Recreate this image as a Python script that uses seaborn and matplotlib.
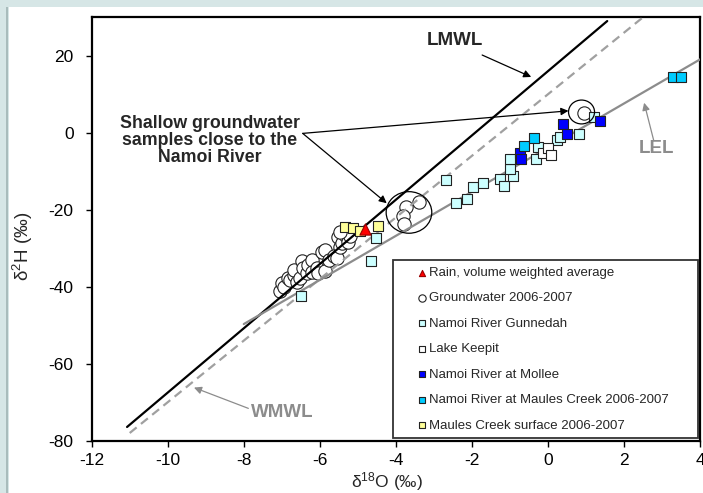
import matplotlib
matplotlib.use("Agg")
import matplotlib.pyplot as plt
from matplotlib.patches import Ellipse, Rectangle
import numpy as np
import pandas as pd
import seaborn as sns

# ---- data (delta18O, delta2H in permil) ----
rain_x = [-4.81]
rain_y = [-25.0]

gw_x = [-7.06, -7.00, -6.95, -6.83, -6.78, -6.69, -6.69, -6.60, -6.52, -6.47,
        -6.43, -6.34, -6.30, -6.21, -6.21, -6.08, -6.04, -5.95, -5.86, -5.86,
        -5.77, -5.62, -5.55, -5.51, -5.47, -5.42, -5.33, -5.25, -5.20, -5.47,
        -3.40, -3.73, -3.80, -3.78, 0.94]
gw_y = [-41.2, -39.1, -40.0, -37.8, -38.3, -37.0, -35.7, -38.8, -37.8, -33.3,
        -35.2, -36.5, -34.4, -33.1, -36.1, -35.2, -36.4, -30.9, -30.5, -36.0,
        -33.1, -32.0, -32.5, -27.0, -29.6, -28.7, -26.6, -28.3, -26.8, -25.7,
        -18.0, -19.4, -21.6, -23.7, 5.2]

gunnedah_x = [-6.50, -4.65, -4.53, -2.68, -2.41, -2.13, -1.96, -1.70, -1.26, -1.15,
              -0.92, -0.99, -0.99, -0.31, -0.25, 0.24, 0.32, 0.81, 1.20]
gunnedah_y = [-42.3, -33.4, -27.4, -12.3, -18.3, -17.3, -14.0, -13.0, -11.9, -13.8,
              -11.2, -9.3, -6.7, -6.9, -3.8, -1.9, -1.0, -0.3, 4.0]

keepit_x = [-0.12, 0.00, 0.07]
keepit_y = [-5.2, -4.0, -5.8]

mollee_x = [-0.73, -0.71, 0.39, 0.49, 1.36]
mollee_y = [-5.3, -6.9, 2.4, -0.3, 3.1]

maules_river_x = [-0.62, -0.36, 3.29, 3.50]
maules_river_y = [-3.4, -1.4, 14.4, 14.4]

maules_surface_x = [-5.33, -5.12, -4.94, -4.46]
maules_surface_y = [-24.5, -24.8, -25.5, -24.2]

# water lines: dH = slope * dO + intercept
line_names = ["LMWL", "WMWL", "LEL"]
line_slopes = [8.35, 8.0, 5.73]
line_intercepts = [16.0, 10.0, -3.86]
line_x_start = [-11.07, -11.0, -8.0]
line_x_end = [1.56, 2.6, 4.0]

x_ticks = [-12, -10, -8, -6, -4, -2, 0, 2, 4]
y_ticks = [-80, -60, -40, -20, 0, 20]

groups = [
    ("Rain, volume weighted average", rain_x, rain_y),
    ("Groundwater 2006-2007", gw_x, gw_y),
    ("Namoi River Gunnedah", gunnedah_x, gunnedah_y),
    ("Lake Keepit", keepit_x, keepit_y),
    ("Namoi River at Mollee", mollee_x, mollee_y),
    ("Namoi River at Maules Creek 2006-2007", maules_river_x, maules_river_y),
    ("Maules Creek surface 2006-2007", maules_surface_x, maules_surface_y),
]
df = pd.concat([pd.DataFrame({"d18O": x, "d2H": y, "group": name}) for name, x, y in groups],
               ignore_index=True)

styles = {
    "Rain, volume weighted average": dict(marker="^", color="#ff0000", s=65, z=6),
    "Groundwater 2006-2007": dict(marker="o", color="#ffffff", s=92, z=2),
    "Namoi River Gunnedah": dict(marker="s", color="#ccffff", s=60, z=4),
    "Lake Keepit": dict(marker="s", color="#ffffff", s=60, z=4),
    "Namoi River at Mollee": dict(marker="s", color="#0000ff", s=60, z=5),
    "Namoi River at Maules Creek 2006-2007": dict(marker="s", color="#00ccff", s=60, z=5),
    "Maules Creek surface 2006-2007": dict(marker="s", color="#ffff99", s=60, z=5),
}

sns.set_style("ticks")
plt.rcParams["font.family"] = ["Liberation Sans", "DejaVu Sans"]
plt.rcParams["mathtext.fontset"] = "custom"
plt.rcParams["mathtext.rm"] = "Liberation Sans"
plt.rcParams["mathtext.default"] = "regular"
plt.rcParams["axes.unicode_minus"] = False

fig = plt.figure(figsize=(7.03, 4.93), dpi=100, facecolor="#d6e6e6")
# inner panel like the source slide
fig.patches.append(Rectangle((9 / 703, 0), 1, 1 - 7 / 493, transform=fig.transFigure,
                             facecolor="#ffffff", edgecolor="none", zorder=-10))
fig.patches.append(Rectangle((6 / 703, 0), 1.5 / 703, 1 - 7 / 493, transform=fig.transFigure,
                             facecolor="#a9bcbc", edgecolor="none", zorder=-10))
ax = fig.add_axes([91.7 / 703, 1 - 440.7 / 493, 608.3 / 703, 423.4 / 493])

for name, x0, x1, m, b in zip(line_names, line_x_start, line_x_end, line_slopes, line_intercepts):
    xs = np.array([x0, x1])
    ys = m * xs + b
    if name == "LMWL":
        ax.plot(xs, ys, color="black", lw=1.6, zorder=3)
    elif name == "WMWL":
        ax.plot(xs, ys, color="#a0a0a0", lw=1.6, ls=(0, (4, 2.5)), zorder=3)
    else:
        ax.plot(xs, ys, color="#8c8c8c", lw=1.6, zorder=3)

for name, _, _ in groups:
    st = styles[name]
    sns.scatterplot(data=df[df["group"] == name], x="d18O", y="d2H", ax=ax,
                    marker=st["marker"], color=st["color"], s=st["s"],
                    edgecolor="#222222" if name != "Rain, volume weighted average" else "#990000",
                    linewidth=0.8, zorder=st["z"], label=name)

# annotation rings
ax.add_patch(Ellipse((-3.655, -20.7), 1.2, 10.8, fill=False, edgecolor="black", lw=0.9, zorder=6))
ax.add_patch(Ellipse((0.884, 5.4), 0.684, 6.2, fill=False, edgecolor="black", lw=0.9, zorder=6))

arrow_k = dict(arrowstyle="-|>", color="black", lw=0.9, mutation_scale=11, shrinkA=0, shrinkB=0)
arrow_g = dict(arrowstyle="-|>", color="#8c8c8c", lw=0.9, mutation_scale=11, shrinkA=0, shrinkB=0)

ax.annotate("", xy=(-0.44, 14.5), xytext=(-1.73, 20.2), arrowprops=arrow_k, zorder=7)
ax.text(-2.44, 23.9, "LMWL", ha="center", va="center", fontsize=13.5, fontweight="bold")

ax.annotate("", xy=(0.54, 5.7), xytext=(-6.45, -0.16), arrowprops=arrow_k, zorder=7)
ax.annotate("", xy=(-4.24, -18.3), xytext=(-6.45, -0.16), arrowprops=arrow_k, zorder=7)
ax.text(-8.89, -1.9, "Shallow groundwater\nsamples close to the\nNamoi River", ha="center",
        va="center", fontsize=12.8, fontweight="bold", linespacing=1.0)

ax.annotate("", xy=(2.53, 7.8), xytext=(2.78, -1.9), arrowprops=arrow_g, zorder=7)
ax.text(2.85, -4.2, "LEL", ha="center", va="center", fontsize=13.5, fontweight="bold",
        color="#8c8c8c")

ax.annotate("", xy=(-9.31, -66.2), xytext=(-7.88, -71.6), arrowprops=arrow_g, zorder=7)
ax.text(-6.98, -72.7, "WMWL", ha="center", va="center", fontsize=13.5, fontweight="bold",
        color="#8c8c8c")

ax.set_xlim(-12, 4)
ax.set_ylim(-80, 30)
ax.set_xticks(x_ticks)
ax.set_yticks(y_ticks)
ax.tick_params(direction="out", length=4, width=1, labelsize=12.5, colors="black")
ax.tick_params(axis="y", pad=9)
ax.tick_params(axis="x", pad=5)
for sp in ax.spines.values():
    sp.set_visible(True)
    sp.set_linewidth(1.6)
    sp.set_color("black")
ax.set_facecolor("white")
ax.set_xlabel("δ$^{18}$O (‰)", fontsize=12.5)
ax.set_ylabel("δ$^{2}$H (‰)", fontsize=13.5)
ax.xaxis.set_label_coords(0.485, -0.07)
ax.yaxis.set_label_coords(-0.094, 0.46)

leg = ax.legend(loc="lower left", bbox_to_anchor=(0.496, 0.006, 0.50, 0.42), mode="expand",
                fontsize=9.5, frameon=True, fancybox=False, edgecolor="black",
                markerscale=0.55, labelspacing=1.0, handlelength=3.3, handletextpad=-1.1,
                borderpad=0.5, borderaxespad=0)
leg.get_frame().set_linewidth(1.3)
leg.set_zorder(8)

fig.savefig("out.png", dpi=100, facecolor=fig.get_facecolor())
